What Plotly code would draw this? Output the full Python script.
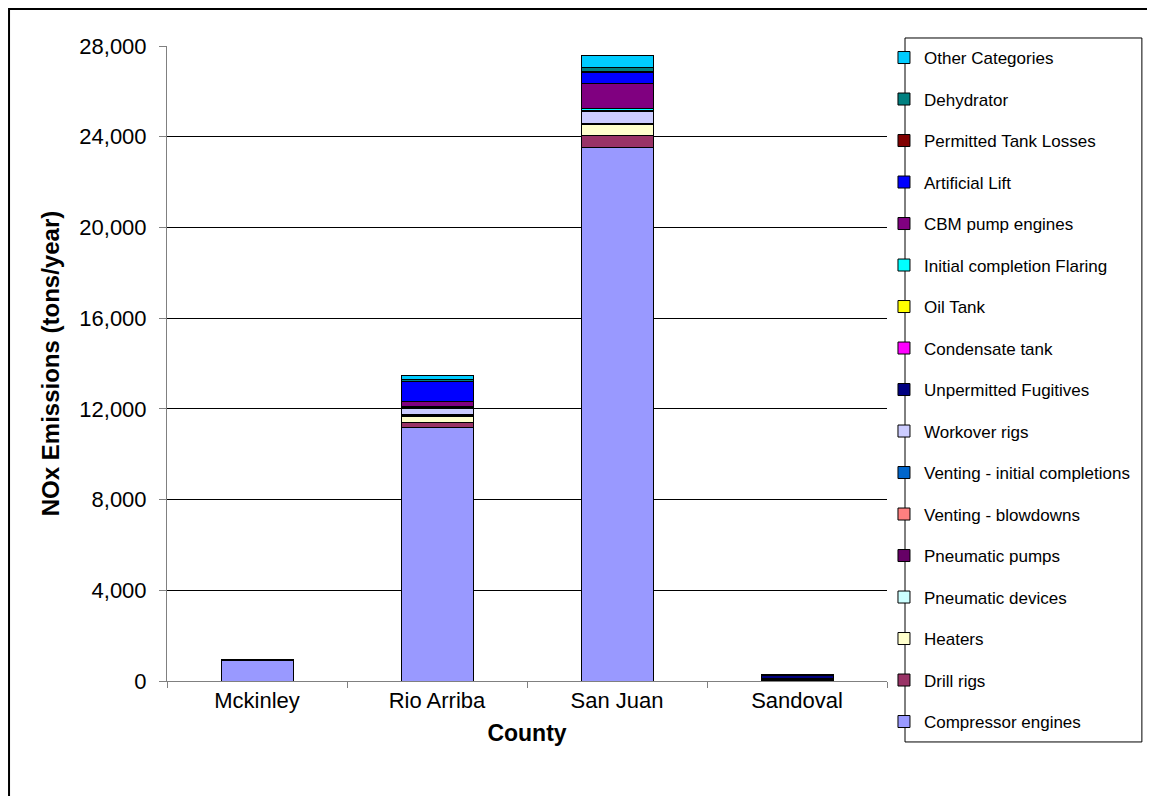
import plotly.graph_objects as go

counties = ["Mckinley", "Rio Arriba", "San Juan", "Sandoval"]

# Stack order bottom -> top
categories = [
    "Compressor engines", "Drill rigs", "Heaters", "Pneumatic devices",
    "Pneumatic pumps", "Venting - blowdowns", "Venting - initial completions",
    "Workover rigs", "Unpermitted Fugitives", "Condensate tank", "Oil Tank",
    "Initial completion Flaring", "CBM pump engines", "Artificial Lift",
    "Permitted Tank Losses", "Dehydrator", "Other Categories",
]

compressor_engines = [900, 11160, 23530, 30]
drill_rigs = [10, 230, 520, 20]
heaters = [10, 290, 490, 5]
pneumatic_devices = [5, 20, 20, 5]
pneumatic_pumps = [5, 50, 30, 50]
venting_blowdowns = [0, 0, 0, 0]
venting_initial = [0, 0, 0, 0]
workover_rigs = [10, 260, 520, 10]
unpermitted_fugitives = [5, 60, 30, 130]
condensate_tank = [0, 0, 0, 0]
oil_tank = [0, 0, 0, 0]
initial_flaring = [0, 20, 90, 0]
cbm_pump_engines = [0, 230, 1100, 0]
artificial_lift = [0, 900, 520, 0]
permitted_tank_losses = [0, 0, 20, 0]
dehydrator = [5, 60, 170, 10]
other_categories = [10, 180, 520, 20]

series = [
    compressor_engines, drill_rigs, heaters, pneumatic_devices, pneumatic_pumps,
    venting_blowdowns, venting_initial, workover_rigs, unpermitted_fugitives,
    condensate_tank, oil_tank, initial_flaring, cbm_pump_engines,
    artificial_lift, permitted_tank_losses, dehydrator, other_categories,
]

colors = [
    "#9999FF", "#993366", "#FFFFCC", "#CCFFFF", "#660066", "#FF8080",
    "#0066CC", "#CCCCFF", "#000080", "#FF00FF", "#FFFF00", "#00FFFF",
    "#800080", "#0000FF", "#800000", "#008080", "#00CCFF",
]

y_ticks = [0, 4000, 8000, 12000, 16000, 20000, 24000, 28000]

n = len(categories)
fig = go.Figure()
for i, (name, vals, col) in enumerate(zip(categories, series, colors)):
    fig.add_trace(go.Bar(
        x=counties, y=vals, name=name,
        marker=dict(color=col, line=dict(color="black", width=1)),
        legendgroup=f"g{i}", legendrank=n - i,
    ))

FONT = "Liberation Sans, Arial, sans-serif"

fig.update_layout(
    width=1155, height=796,
    barmode="stack", bargap=0.6,
    paper_bgcolor="white", plot_bgcolor="white",
    margin=dict(l=159, r=276, t=38, b=123),
    font=dict(family=FONT, color="black", size=22),
    showlegend=True,
    legend=dict(
        x=0.9958, y=1.0095, xanchor="left", yanchor="top",
        traceorder="grouped", tracegroupgap=16.4,
        borderwidth=0, bgcolor="rgba(0,0,0,0)",
        font=dict(family=FONT, size=17, color="black"),
        itemwidth=30, maxheight=760,
    ),
    xaxis=dict(
        title=dict(text="<b>County</b>", font=dict(size=23), standoff=12),
        showline=True, linecolor="#808080", linewidth=1,
        ticks="outside", tickson="boundaries", ticklen=6, tickcolor="#808080",
        tickfont=dict(size=22),
    ),
    yaxis=dict(
        title=dict(text="<b>NOx Emissions (tons/year)</b>", font=dict(size=24), standoff=12),
        range=[0, 28000], tickvals=y_ticks, tickformat=",d",
        showline=True, linecolor="#808080", linewidth=1,
        ticks="outside", ticklen=7, tickcolor="#808080",
        ticklabelstandoff=8,
        showgrid=True, gridcolor="black", gridwidth=1,
        zeroline=False, tickfont=dict(size=22),
    ),
    shapes=[
        # outer chart border
        dict(type="rect", xref="paper", yref="paper",
             x0=-0.2194, x1=1.368, y0=-0.2, y1=1.0583,
             line=dict(color="black", width=2), fillcolor="rgba(0,0,0,0)",
             layer="below"),
        # legend box
        dict(type="rect", xref="paper", yref="paper",
             x0=1.025, x1=1.354, y0=-0.096, y1=1.0126,
             line=dict(color="black", width=1), fillcolor="white",
             layer="below"),
    ],
)

fig.write_html("out.html")
